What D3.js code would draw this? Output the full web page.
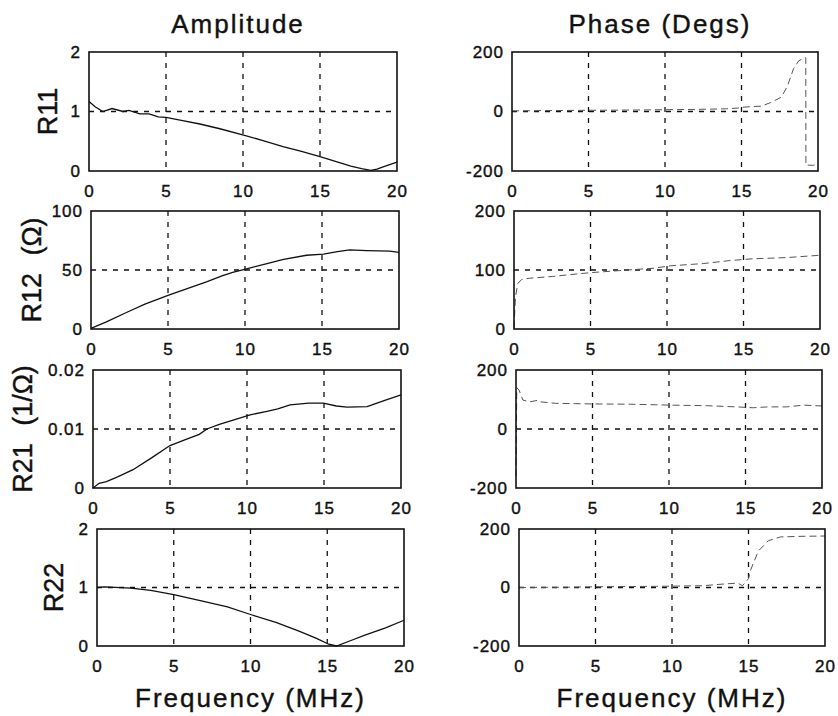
<!DOCTYPE html>
<html>
<head>
<meta charset="utf-8">
<script src="https://cdn.jsdelivr.net/npm/d3@7"></script>
<style>
  body { margin: 0; background: #fff; }
  text { font-family: "Liberation Sans", Arial, sans-serif; fill: #111; stroke: #111; stroke-width: 0.4px; }
</style>
</head>
<body>
<script>

// frequency ticks (MHz)
const freqTicks = [0, 5, 10, 15, 20]

// amplitude traces [freq, value]
const r11Amp = [[0,1.17],[0.4,1.08],[0.9,1.0],[1.5,1.05],[2.2,1.0],[2.6,1.02],[3.3,0.96],[3.9,0.96],[4.5,0.91],[5.0,0.9],[6.0,0.85],[7.2,0.79],[8.5,0.71],[10.1,0.6],[11.3,0.51],[12.6,0.41],[13.8,0.33],[15.0,0.24],[16.0,0.16],[17.0,0.08],[17.7,0.04],[18.3,0.01],[18.7,0.03],[19.1,0.07],[20,0.15]]
const r12Amp = [[0,0.5],[1,6],[2.3,14],[3.5,21],[5,28.5],[6.2,34],[7.5,40],[8.5,45],[9.2,48],[10.1,51],[11.3,55],[12.5,59],[14,62.5],[15.1,63.5],[16,65.5],[16.8,67],[17.9,66.5],[19.4,66],[20,65]]
const r21Amp = [[0,0],[0.4,0.0008],[0.87,0.0011],[1.6,0.0019],[2.6,0.0031],[3.8,0.0051],[5.0,0.0072],[6.0,0.0082],[6.9,0.0091],[7.4,0.0100],[8.2,0.0108],[9.1,0.0115],[10.2,0.0124],[11.3,0.0130],[12.0,0.0134],[12.8,0.0141],[14.0,0.0144],[14.95,0.0144],[15.8,0.0139],[16.5,0.0137],[17.8,0.0138],[18.9,0.0148],[20,0.0158]]
const r22Amp = [[0,1.0],[0.5,1.01],[2.2,0.99],[3.5,0.95],[5.0,0.88],[6.8,0.77],[8.5,0.67],[10.1,0.53],[11.7,0.40],[13.2,0.25],[14.3,0.13],[15.1,0.03],[15.6,0.0],[16.5,0.09],[17.5,0.19],[18.8,0.31],[20,0.44]]

// phase traces [freq, degrees]
const r11Phase = [[0,2],[2,3],[5,4],[8,5],[10,6],[12,7],[14,9],[14.9,12],[15.0,14],[15.5,16],[16.3,18],[16.9,30],[17.6,48],[18.0,85],[18.4,144],[18.75,171],[19.2,181],[19.21,-180],[19.7,-181],[20,-175]]
const r12Phase = [[0,2],[0.05,30],[0.1,55],[0.25,77],[0.5,84],[1.0,86],[2.5,89],[3.6,92],[5,95.5],[6.9,99],[9.1,103],[10.2,107],[12.4,111],[14.1,116],[15.6,119],[17.8,121],[20,125]]
const r21Phase = [[0,-160],[0.05,140],[0.2,132],[0.45,98],[0.9,92],[1.4,97],[1.6,92],[2.6,87],[5,85],[7.5,84],[10,81],[12.5,79],[14.4,75],[15.5,72],[16.5,75],[17.7,75],[18.8,81],[20,78]]
const r22Phase = [[0,0],[3,1],[6,3],[9,4],[12,6],[13.4,12],[14.3,15],[14.6,6],[15.0,30],[15.1,54],[15.3,81],[15.65,125],[16.3,160],[17.1,173],[18.5,175],[20,176]]

// y ranges and ticks
const ampDomains = [[0,2],[0,100],[0,0.02],[0,2]]
const ampTicks = [[0,1,2],[0,50,100],[0,0.01,0.02],[0,1,2]]
const phaseDomains = [[-200,200],[0,200],[-200,200],[-200,200]]
const phaseTicks = [[-200,0,200],[0,100,200],[-200,0,200],[-200,0,200]]

const rowLabels = ['R11', 'R12', 'R21', 'R22']
const rowUnits = ['', '(Ω)', '(1/Ω)', '']
const colTitles = ['Amplitude', 'Phase (Degs)']
const xTitle = 'Frequency (MHz)'

const w = 838
const h = 716

// plot boxes (the scan is a little skewed, so edges drift per row)
const rowTop = [52, 211, 370, 529]
const rowBottom = [171, 329, 488, 646]
const colLeft = [[89, 91, 93, 97], [512, 514, 516, 519]]
const colRight = [[397, 399, 401, 404], [818, 820, 822, 825]]
const yLabelX = [57, 41, 32, 63]

const svg = d3.select('body')
  .append('svg')
  .attr('width', w)
  .attr('height', h)

const line = (x, y) => d3.line().x(d => x(d[0])).y(d => y(d[1]))

const drawPanel = (row, col, data, domain, ticks, isPhase) => {
  const left = colLeft[col][row]
  const right = colRight[col][row]
  const top = rowTop[row]
  const bottom = rowBottom[row]

  const x = d3.scaleLinear().domain([0, 20]).range([left, right])
  const y = d3.scaleLinear().domain(domain).range([bottom, top])
  const g = svg.append('g')

  // grid
  g.selectAll('.vgrid')
    .data(freqTicks.slice(1, -1))
    .enter()
    .append('line')
    .attr('x1', d => x(d)).attr('x2', d => x(d))
    .attr('y1', top).attr('y2', bottom)
    .attr('stroke', '#111').attr('stroke-width', 1.3)
    .attr('stroke-dasharray', '5,6')
  g.selectAll('.hgrid')
    .data(ticks.slice(1, -1))
    .enter()
    .append('line')
    .attr('x1', left).attr('x2', right)
    .attr('y1', d => y(d)).attr('y2', d => y(d))
    .attr('stroke', '#111').attr('stroke-width', 1.3)
    .attr('stroke-dasharray', '5,6')

  // trace
  g.append('path')
    .datum(data)
    .attr('d', line(x, y))
    .attr('fill', 'none')
    .attr('stroke', isPhase ? '#555' : '#111')
    .attr('stroke-width', isPhase ? 1 : 1.3)
    .attr('stroke-dasharray', isPhase ? '7,4' : null)

  g.append('rect')
    .attr('x', left).attr('y', top)
    .attr('width', right - left).attr('height', bottom - top)
    .attr('fill', 'none')
    .attr('stroke', '#111')
    .attr('stroke-width', 1.6)

  const xAxis = g.append('g')
    .attr('transform', `translate(0, ${bottom})`)
    .call(d3.axisBottom(x).tickValues(freqTicks).tickSize(0).tickPadding(14))
  const yAxis = g.append('g')
    .attr('transform', `translate(${left}, 0)`)
    .call(d3.axisLeft(y).tickValues(ticks).tickFormat(d => String(d)).tickSize(0).tickPadding(8))

  ;[xAxis, yAxis].forEach(a => {
    a.select('.domain').remove()
    a.selectAll('text')
      .attr('font-size', 17)
      .attr('letter-spacing', 1)
      .style('font-family', '"Liberation Sans", Arial, sans-serif')
      .attr('fill', '#111')
  })
  return { x, left, right, top, bottom }
}

const ampData = [r11Amp, r12Amp, r21Amp, r22Amp]
const phaseData = [r11Phase, r12Phase, r21Phase, r22Phase]

rowLabels.forEach((label, i) => {
  drawPanel(i, 0, ampData[i], ampDomains[i], ampTicks[i], false)
  drawPanel(i, 1, phaseData[i], phaseDomains[i], phaseTicks[i], true)

  const cy = (rowTop[i] + rowBottom[i]) / 2
  const t = svg.append('text')
    .attr('text-anchor', 'middle')
    .attr('font-size', 27)
    .attr('transform', `translate(${yLabelX[i]}, ${cy}) rotate(-90)`)
    .text(label)
  if (rowUnits[i]) {
    t.append('tspan').attr('dx', 10).text(' ' + rowUnits[i])
  }
})

colTitles.forEach((title, c) => {
  const cx = (colLeft[c][0] + colRight[c][0]) / 2 - 5
  svg.append('text')
    .attr('text-anchor', 'middle')
    .attr('x', cx)
    .attr('y', 33)
    .attr('font-size', 26)
    .attr('letter-spacing', 2)
    .text(title)

  const bx = (colLeft[c][3] + colRight[c][3]) / 2
  svg.append('text')
    .attr('text-anchor', 'middle')
    .attr('x', bx)
    .attr('y', 707)
    .attr('font-size', 26)
    .attr('letter-spacing', 2)
    .text(xTitle)
})

</script>
</body>
</html>
